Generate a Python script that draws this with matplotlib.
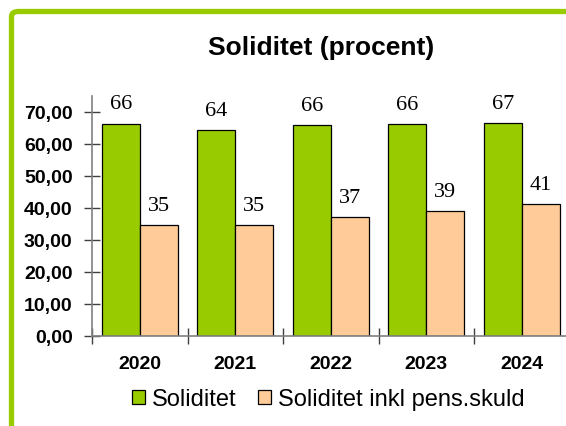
import numpy as np
import matplotlib.pyplot as plt
from matplotlib.patches import FancyBboxPatch

years = ['2020', '2021', '2022', '2023', '2024']
soliditet = [66.4, 64.4, 65.8, 66.2, 66.6]
soliditet_pens = [34.6, 34.6, 37.2, 39.1, 41.2]
yticks = [0, 10, 20, 30, 40, 50, 60, 70]
ytick_labels = ['0,00', '10,00', '20,00', '30,00', '40,00', '50,00', '60,00', '70,00']

plt.rcParams['font.family'] = ['Liberation Sans', 'DejaVu Sans']

fig = plt.figure(figsize=(5.66, 4.27), dpi=100)

# green frame, top and left only (rest runs off the picture)
W, H = 566, 427
frame = FancyBboxPatch(
    (11.5 / W, -0.2), 1.3, (H - 12.5) / H + 0.2,
    boxstyle='round,pad=0,rounding_size=0.012',
    transform=fig.transFigure,
    facecolor='none', edgecolor='#99CC00', linewidth=3.8,
    clip_on=False
)
fig.patches.append(frame)

ax = fig.add_axes([92 / W, 90 / H, 477.5 / W, 240 / H])

x = np.arange(len(years))
w = 0.4
b1 = ax.bar(x - w / 2, soliditet, w, color='#99CC00', edgecolor='black',
            linewidth=0.9, label='Soliditet')
b2 = ax.bar(x + w / 2, soliditet_pens, w, color='#FFCC99', edgecolor='black',
            linewidth=0.9, label='Soliditet inkl pens.skuld')

for bars, vals in [(b1, soliditet), (b2, soliditet_pens)]:
    for bar, v in zip(bars, vals):
        ax.annotate('{:.0f}'.format(v),
                    (bar.get_x() + bar.get_width() / 2, v),
                    xytext=(0, 11), textcoords='offset points',
                    ha='center', va='baseline',
                    fontsize=16, family='Liberation Serif')

ax.set_xlim(-0.5, len(years) - 0.5)
ax.set_ylim(0, 75)

ax.set_yticks(yticks)
ax.set_yticklabels(ytick_labels, fontsize=14, fontweight='bold')
ax.tick_params(axis='y', direction='inout', length=12, width=1,
               color='#404040', pad=8)

ax.set_xticks(np.arange(-0.5, len(years), 1))
ax.set_xticklabels([])
ax.set_xticks(x, minor=True)
ax.set_xticklabels(years, minor=True, fontsize=14, fontweight='bold')
ax.tick_params(axis='x', which='major', direction='inout', length=12,
               width=1, color='#404040')
ax.tick_params(axis='x', which='minor', length=0, pad=14)

for s in ['top', 'right']:
    ax.spines[s].set_visible(False)
ax.spines['left'].set_color('#808080')
ax.spines['bottom'].set_color('#808080')
ax.spines['left'].set_linewidth(1.2)
ax.spines['bottom'].set_linewidth(1.2)

fig.text(321 / W, 1 - 48 / H, 'Soliditet (procent)', ha='center',
         va='center', fontsize=19, fontweight='bold')

fig.legend(handles=[b1, b2], loc='center', bbox_to_anchor=(328 / W, 1 - 400 / H),
           ncol=2, frameon=False, fontsize=17, handlelength=0.55,
           handleheight=0.55, handletextpad=0.3, columnspacing=0.9,
           borderpad=0)

fig.savefig('out.png', dpi=100)
plt.close()
